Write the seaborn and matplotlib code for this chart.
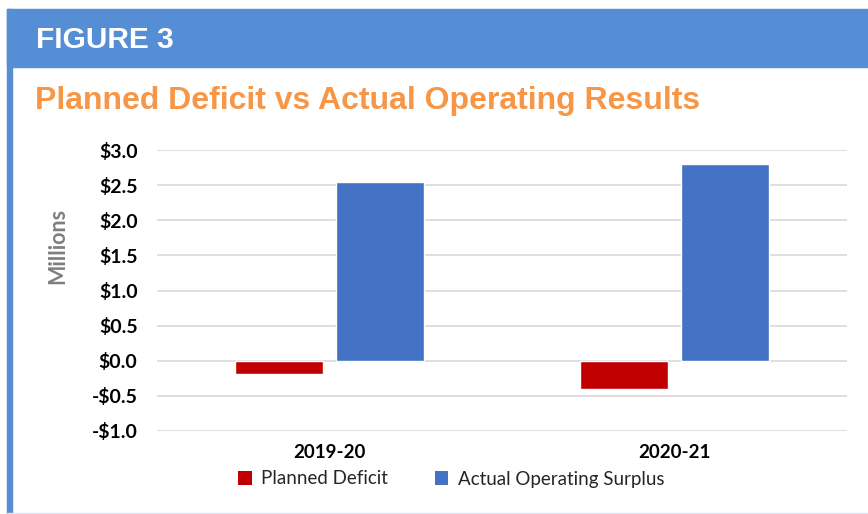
import matplotlib
matplotlib.use("Agg")
import matplotlib.pyplot as plt
from matplotlib.patches import Rectangle, Patch
import pandas as pd
import seaborn as sns

# data (millions of dollars)
years = ["2019-20", "2020-21"]
planned_deficit = [-0.19, -0.40]
actual_surplus = [2.55, 2.80]
series_names = ["Planned Deficit", "Actual Operating Surplus"]
y_ticks = [-1.0, -0.5, 0.0, 0.5, 1.0, 1.5, 2.0, 2.5, 3.0]

RED = "#C00000"
BLUE = "#4472C4"
HEADER = "#558ED5"
ORANGE = "#F79646"

df = pd.DataFrame({
    "year": years * 2,
    "value": planned_deficit + actual_surplus,
    "series": [series_names[0]] * len(years) + [series_names[1]] * len(years),
})

sns.set_theme(style="white")
plt.rcParams["font.family"] = ["Lato", "DejaVu Sans"]

fig = plt.figure(figsize=(8.68, 5.14), dpi=100)
W, H = 868, 514

# frame: header band, left border, bottom line
fig.patches.append(Rectangle((7 / W, (H - 67) / H), 1, 58 / H, transform=fig.transFigure,
                             color=HEADER, zorder=0))
fig.patches.append(Rectangle((7 / W, 0), 4.5 / W, (H - 9) / H, transform=fig.transFigure,
                             color=HEADER, zorder=0))
fig.patches.append(Rectangle((7 / W, 0), 1, 1.5 / H, transform=fig.transFigure,
                             color="#DCE3EC", zorder=0))

fig.text(36 / W, (H - 40) / H, "FIGURE 3", color="white", fontsize=21.5, fontweight="bold",
         family="Liberation Sans", va="center", ha="left")
fig.text(35 / W, (H - 101) / H, "Planned Deficit vs Actual Operating Results", color=ORANGE,
         fontsize=23, fontweight="bold", family="Liberation Sans", va="center", ha="left")

ax = fig.add_axes([157 / W, 83 / H, 690 / W, 281 / H])
sns.barplot(data=df, x="year", y="value", hue="series", order=years, hue_order=series_names,
            palette=[RED, BLUE], width=0.591, gap=0.137, saturation=1, ax=ax,
            legend=False, zorder=3)

ax.set_ylim(-1.0, 3.0)
ax.set_yticks(y_ticks)
ax.set_yticklabels([("-$%.1f" % abs(v)) if v < 0 else ("$%.1f" % v) for v in y_ticks],
                   fontsize=14, fontweight="bold", color="black")
ax.set_xticklabels(years, fontsize=13.5, fontweight="bold", color="black")
ax.tick_params(axis="y", length=0, pad=14)
ax.tick_params(axis="x", length=0, pad=9)
ax.grid(axis="y", color="#D9D9D9", linewidth=1.2, zorder=0)
ax.grid(axis="x", visible=False)
ax.set_axisbelow(True)
for s in ax.spines.values():
    s.set_visible(False)
ax.set_xlabel("")
ax.set_ylabel("")

fig.text(58 / W, (H - 246) / H, "Millions", rotation=90, color="#7F7F7F", fontsize=15.5,
         fontweight="bold", va="center", ha="center")

handles = [Patch(facecolor=RED, edgecolor="none"), Patch(facecolor=BLUE, edgecolor="none")]
fig.legend(handles, series_names, loc="center", bbox_to_anchor=(451 / W, (H - 479) / H),
           ncol=2, frameon=False, fontsize=13.5, handlelength=0.72, handleheight=0.72,
           handletextpad=0.5, columnspacing=2.5)

fig.savefig("out.png", dpi=100)
